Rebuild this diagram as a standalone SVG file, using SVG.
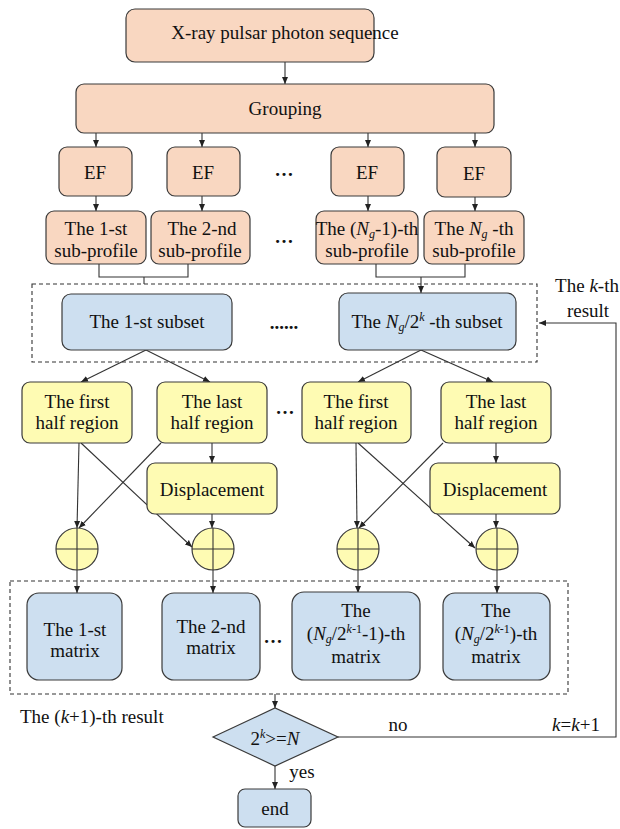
<svg xmlns="http://www.w3.org/2000/svg" width="620" height="829" viewBox="0 0 620 829" font-family="'Liberation Serif', 'DejaVu Serif', 'Times New Roman', serif">
<style>
text{font-family:'Liberation Serif','DejaVu Serif','Times New Roman',serif;font-size:19px;fill:#111;text-anchor:middle}
.pe{fill:#f9d7c1;stroke:#3a3a3a;stroke-width:1.2}
.bl{fill:#cddff0;stroke:#3a3a3a;stroke-width:1.2}
.ye{fill:#fefbb3;stroke:#3a3a3a;stroke-width:1.2}
.dash{fill:none;stroke:#333;stroke-width:1.1;stroke-dasharray:4 3}
.ln{fill:none;stroke:#333;stroke-width:1.1}
.ar{fill:none;stroke:#333;stroke-width:1.1;marker-end:url(#ah)}
.i{font-style:italic}
.s{font-size:12px}
.l{text-anchor:start}
.dots{font-weight:bold}
</style>
<defs>
<marker id="ah" markerWidth="8" markerHeight="8" refX="7" refY="4" orient="auto" markerUnits="userSpaceOnUse">
<path d="M0,1 L7,4 L0,7 Z" fill="#222"/>
</marker>
</defs>

<g id="frames">
<rect class="dash" x="32" y="284" width="505" height="78"/>
<rect class="dash" x="10" y="581" width="558" height="113"/>
</g>

<g id="connectors">
<path class="ar" d="M285,62 V84"/>
<path class="ar" d="M96,133 V147"/>
<path class="ar" d="M202,133 V147"/>
<path class="ar" d="M368,133 V147"/>
<path class="ar" d="M475,133 V147"/>
<path class="ar" d="M96,196 V211"/>
<path class="ar" d="M202,196 V211"/>
<path class="ar" d="M368,196 V211"/>
<path class="ar" d="M475,196 V211"/>
<path class="ln" d="M99,264 V277 H188 V264"/>
<path class="ln" d="M144,277 V284"/>
<path class="ln" d="M376,264 V277 H465 V264"/>
<path class="ar" d="M421,277 V293"/>
<path class="ar" d="M146,350 L81,382"/>
<path class="ar" d="M146,350 L210,382"/>
<path class="ar" d="M421,350 L358,382"/>
<path class="ar" d="M421,350 L493,382"/>
<path class="ar" d="M212,443 V463"/>
<path class="ar" d="M496,443 V463"/>
<path class="ar" d="M79,443 L77,528"/>
<path class="ar" d="M81,443 L192,547"/>
<path class="ar" d="M161,443 L79,528"/>
<path class="ar" d="M212,514 V528"/>
<path class="ar" d="M356,443 L357,528"/>
<path class="ar" d="M358,443 L475,548"/>
<path class="ar" d="M443,443 L359,528"/>
<path class="ar" d="M496,514 V528"/>
<path class="ar" d="M77,570 V593"/>
<path class="ar" d="M213,570 V593"/>
<path class="ar" d="M358,570 V593"/>
<path class="ar" d="M497,570 V593"/>
<path class="ar" d="M275,694 V708"/>
<path class="ar" d="M275,766 V789"/>
<path class="ar" d="M338,737 H616 V323 H539"/>
</g>

<g id="n-seq">
<rect class="pe" x="126" y="9" width="248" height="53" rx="9"/>
<text x="285" y="39">X-ray pulsar photon sequence</text>
</g>
<g id="n-grouping">
<rect class="pe" x="76" y="84" width="418" height="49" rx="8"/>
<text x="285" y="115">Grouping</text>
</g>

<g id="n-ef1"><rect class="pe" x="59" y="147" width="73" height="49" rx="8"/><text x="95" y="179">EF</text></g>
<g id="n-ef2"><rect class="pe" x="167" y="147" width="73" height="49" rx="8"/><text x="203" y="179">EF</text></g>
<g id="n-ef3"><rect class="pe" x="331" y="147" width="73" height="49" rx="8"/><text x="367" y="179">EF</text></g>
<g id="n-ef4"><rect class="pe" x="437" y="147" width="74" height="50" rx="8"/><text x="474" y="180">EF</text></g>
<text class="dots" x="284" y="176">…</text>

<g id="n-sp1"><rect class="pe" x="46" y="211" width="100" height="53" rx="8"/><text x="96" y="235">The 1-st</text><text x="96" y="257">sub-profile</text></g>
<g id="n-sp2"><rect class="pe" x="151" y="211" width="99" height="53" rx="8"/><text x="202" y="235">The 2-nd</text><text x="200" y="257">sub-profile</text></g>
<g id="n-sp3"><rect class="pe" x="316" y="211" width="102" height="53" rx="8"/><text x="367" y="235">The (<tspan class="i">N</tspan><tspan class="i s" dy="3">g</tspan><tspan dy="-3">-1)-th</tspan></text><text x="367" y="257">sub-profile</text></g>
<g id="n-sp4"><rect class="pe" x="424" y="211" width="100" height="53" rx="8"/><text x="474" y="235">The <tspan class="i">N</tspan><tspan class="i s" dy="3">g</tspan><tspan dy="-3"> -th</tspan></text><text x="474" y="257">sub-profile</text></g>
<text class="dots" x="284" y="243">…</text>

<g id="n-sub1"><rect class="bl" x="62" y="294" width="170" height="56" rx="9"/><text x="147" y="328">The 1-st subset</text></g>
<g id="n-sub2"><rect class="bl" x="339" y="293" width="177" height="57" rx="9"/><text x="427" y="328">The <tspan class="i">N</tspan><tspan class="i s" dy="3">g</tspan><tspan dy="-3">/2</tspan><tspan class="i s" dy="-7">k</tspan><tspan dy="7"> -th subset</tspan></text></g>
<text class="dots" x="284" y="329">......</text>

<g id="n-kth"><text x="587" y="292">The <tspan class="i">k</tspan>-th</text><text x="588" y="317">result</text></g>

<g id="n-first1"><rect class="ye" x="22" y="382" width="110" height="61" rx="8"/><text x="77" y="408">The first</text><text x="77" y="429">half region</text></g>
<g id="n-last1"><rect class="ye" x="157" y="382" width="110" height="61" rx="8"/><text x="212" y="408">The last</text><text x="212" y="429">half region</text></g>
<g id="n-first2"><rect class="ye" x="302" y="382" width="109" height="61" rx="8"/><text x="356" y="408">The first</text><text x="356" y="429">half region</text></g>
<g id="n-last2"><rect class="ye" x="441" y="382" width="110" height="61" rx="8"/><text x="496" y="408">The last</text><text x="496" y="429">half region</text></g>
<text class="dots" x="285" y="414">…</text>

<g id="n-disp1"><rect class="ye" x="147" y="463" width="130" height="51" rx="8"/><text x="212" y="496">Displacement</text></g>
<g id="n-disp2"><rect class="ye" x="430" y="463" width="130" height="51" rx="8"/><text x="495" y="496">Displacement</text></g>

<g id="n-add1"><circle class="ye" cx="77" cy="549" r="21"/><path class="ln" d="M56,549 H98 M77,528 V570"/></g>
<g id="n-add2"><circle class="ye" cx="213" cy="549" r="21"/><path class="ln" d="M192,549 H234 M213,528 V570"/></g>
<g id="n-add3"><circle class="ye" cx="358" cy="549" r="21"/><path class="ln" d="M337,549 H379 M358,528 V570"/></g>
<g id="n-add4"><circle class="ye" cx="497" cy="549" r="21"/><path class="ln" d="M476,549 H518 M497,528 V570"/></g>

<g id="n-m1"><rect class="bl" x="27" y="593" width="95" height="87" rx="12"/><text x="75" y="636">The 1-st</text><text x="75" y="657">matrix</text></g>
<g id="n-m2"><rect class="bl" x="162" y="593" width="98" height="87" rx="12"/><text x="211" y="633">The 2-nd</text><text x="211" y="654">matrix</text></g>
<g id="n-m3"><rect class="bl" x="292" y="592" width="128" height="88" rx="12"/><text x="356" y="617">The</text><text x="356" y="640">(<tspan class="i">N</tspan><tspan class="i s" dy="3">g</tspan><tspan dy="-3">/2</tspan><tspan class="s" dy="-7"><tspan class="i">k</tspan>-1</tspan><tspan dy="7">-1)-th</tspan></text><text x="356" y="663">matrix</text></g>
<g id="n-m4"><rect class="bl" x="443" y="593" width="107" height="87" rx="12"/><text x="496" y="617">The</text><text x="496" y="640">(<tspan class="i">N</tspan><tspan class="i s" dy="3">g</tspan><tspan dy="-3">/2</tspan><tspan class="s" dy="-7"><tspan class="i">k</tspan>-1</tspan><tspan dy="7">)-th</tspan></text><text x="496" y="663">matrix</text></g>
<text class="dots" x="273" y="643">…</text>

<text class="l" x="20" y="723">The (<tspan class="i">k</tspan>+1)-th result</text>

<g id="n-cond"><polygon class="bl" points="213,737 275,708 338,737 275,766"/><text x="275" y="745">2<tspan class="i s" dy="-7">k</tspan><tspan dy="7">&gt;=</tspan><tspan class="i">N</tspan></text></g>
<text x="398" y="731">no</text>
<text x="576" y="731"><tspan class="i">k</tspan>=<tspan class="i">k</tspan>+1</text>
<text x="302" y="778">yes</text>

<g id="n-end"><rect class="bl" x="238" y="789" width="73" height="38" rx="7"/><text x="275" y="815">end</text></g>
</svg>
